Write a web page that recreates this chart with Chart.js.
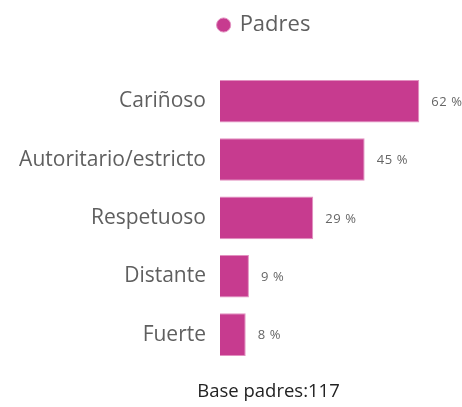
<!DOCTYPE html>
<html>
<head>
<meta charset="utf-8">
<script src="https://cdn.jsdelivr.net/npm/chart.js@4"></script>
<style>
  body { margin: 0; background: #fff; }
  #wrap { width: 462px; height: 407px; }
</style>
</head>
<body>
<div id="wrap"><canvas id="chart"></canvas></div>
<script>
const categories = ['Cariñoso', 'Autoritario/estricto', 'Respetuoso', 'Distante', 'Fuerte'];
const padres = [62, 45, 29, 9, 8];
const seriesName = 'Padres';
const footerText = 'Base padres:117';

const barColor = '#C73B8F';
const textGray = '#5f5f5f';
const fontFamily = '"Open Sans", "Noto Sans", sans-serif';

// draws the "62 %" style labels to the right of each bar
const valueLabels = {
  id: 'valueLabels',
  afterDatasetsDraw(chart) {
    const ctx = chart.ctx;
    const meta = chart.getDatasetMeta(0);
    ctx.save();
    ctx.font = '13px ' + fontFamily;
    ctx.letterSpacing = '0.6px';
    ctx.fillStyle = '#666';
    ctx.textBaseline = 'middle';
    meta.data.forEach((bar, i) => {
      ctx.fillText(padres[i] + ' %', bar.x + 12, bar.y + 1);
    });
    ctx.restore();
  }
};

// legend and footer sit a bit right of the canvas centre in the original
const shiftBoxes = {
  id: 'shiftBoxes',
  afterLayout(chart) {
    const lg = chart.legend;
    lg.left += 42; lg.right += 42;
    const tt = chart.titleBlock;
    if (tt) { tt.left += 46; tt.right += 46; }
  }
};

new Chart(document.getElementById('chart'), {
  type: 'bar',
  data: {
    labels: categories,
    datasets: [{
      label: seriesName,
      data: padres,
      backgroundColor: barColor,
      borderColor: '#e290c0',
      borderWidth: 1,
      barPercentage: 0.73,
      categoryPercentage: 1
    }]
  },
  options: {
    indexAxis: 'y',
    responsive: true,
    maintainAspectRatio: false,
    animation: false,
    layout: { padding: { top: 8, right: 17, bottom: 0, left: 0 } },
    plugins: {
      legend: {
        position: 'top',
        labels: {
          usePointStyle: true,
          pointStyle: 'circle',
          boxWidth: 10,
          boxHeight: 10,
          padding: 6,
          color: textGray,
          font: { size: 22, family: fontFamily }
        }
      },
      title: {
        display: true,
        position: 'bottom',
        text: footerText,
        color: '#222',
        font: { size: 18.5, weight: 'normal', family: fontFamily },
        padding: { top: 17, bottom: 4 }
      },
      tooltip: { enabled: false }
    },
    scales: {
      x: {
        position: 'top',
        min: 0,
        max: 70,
        grid: { display: false },
        border: { display: false },
        ticks: { display: false },
        afterFit(scale) { scale.height = 26; }
      },
      y: {
        grid: { display: false },
        border: { display: false },
        ticks: {
          color: textGray,
          padding: 6,
          font: { size: 21, family: fontFamily }
        },
        afterFit(scale) { scale.width = 220; }
      }
    }
  },
  plugins: [valueLabels, shiftBoxes]
});
</script>
</body>
</html>
